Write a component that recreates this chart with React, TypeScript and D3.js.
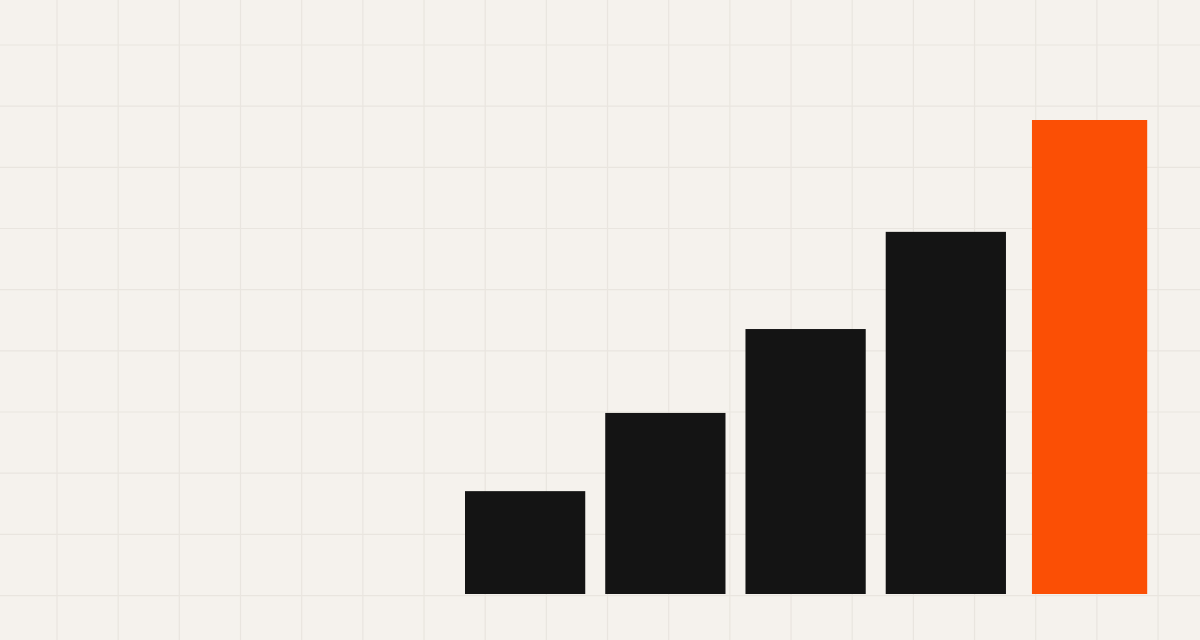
import React from "react";
import * as d3 from "d3";

const categories = ["A", "B", "C", "D", "E"];
const values = [21.7, 38.2, 55.9, 76.4, 100];
const highlight = ["E"];

const W = 1200;
const H = 640;
const BG = "#f5f2ed";
const GRID = "#e9e5df";
const DARK = "#141414";
const ACCENT = "#fb4f05";

export default function App() {
  const x = d3
    .scaleBand<string>()
    .domain(categories)
    .range([465, 1146.2])
    .paddingInner(20 / 140.3)
    .paddingOuter(0);
  const y = d3.scaleLinear().domain([0, 100]).range([594, 120]);

  const gridStep = 61.17;
  const vLines = d3.range(57, W, gridStep);
  const hLines = d3.range(45, H, gridStep);

  return (
    <svg
      width={W}
      height={H}
      style={{ position: "absolute", left: 0, top: 0, display: "block" }}
    >
      <rect x={0} y={0} width={W} height={H} fill={BG} />
      <g stroke={GRID} strokeWidth={1.2}>
        {vLines.map((v, i) => (
          <line key={"v" + i} x1={v} x2={v} y1={0} y2={H} />
        ))}
        {hLines.map((h, i) => (
          <line key={"h" + i} x1={0} x2={W} y1={h} y2={h} />
        ))}
      </g>
      <g>
        {categories.map((c, i) => {
          const isHi = highlight.includes(c);
          const bx = x(c)! + (isHi ? 6 : 0);
          const bw = x.bandwidth() - (isHi ? 5 : 0);
          return (
            <rect
              key={c}
              x={bx}
              y={y(values[i])}
              width={bw}
              height={y(0) - y(values[i])}
              fill={isHi ? ACCENT : DARK}
            />
          );
        })}
      </g>
    </svg>
  );
}
